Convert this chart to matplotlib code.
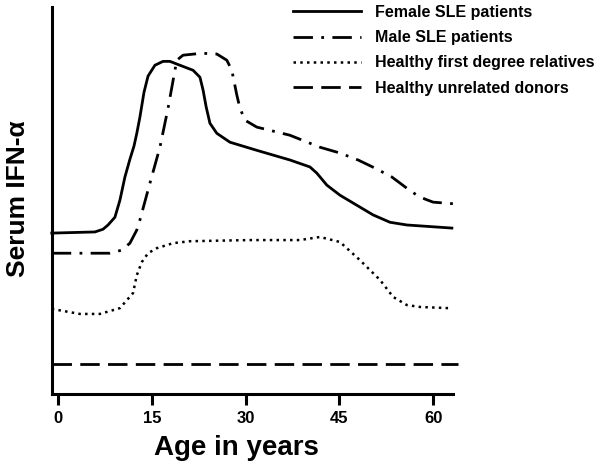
import matplotlib
matplotlib.use("Agg")
import matplotlib.pyplot as plt

plt.rcParams["font.family"] = ["Liberation Sans", "DejaVu Sans"]
plt.rcParams["font.weight"] = "bold"

# Curves (age in years, serum level in arbitrary units 0-100)
female_age = [-1, 5.9, 7.2, 8, 9.1, 9.9, 10.7, 11.5, 12.15, 12.6, 13.1, 13.75, 14.4, 15.5,
              16.8, 17.9, 19.5, 21.6, 22.7, 23.2, 23.7, 24.3, 25.4, 27.5, 31.8, 37.1, 40.3,
              41.4, 43, 45.1, 47.8, 50.4, 53.1, 55.8, 63]
female_level = [41.6, 41.9, 42.6, 43.7, 45.7, 50.1, 56.1, 60.7, 64.1, 67.4, 71.6, 78, 82.2,
                85, 86, 86, 85, 83.7, 81.9, 78.6, 74.2, 70, 67.4, 65.1, 63, 60.5, 58.7, 57.1,
                54, 51.4, 48.8, 46.3, 44.4, 43.7, 42.9]

male_age = [-1, 8.3, 10.2, 11.5, 12.6, 13.1, 14.7, 16.3, 17.6, 18.7, 19, 20, 23, 25.4,
            27, 27.8, 28.6, 29.1, 29.9, 31.8, 37.1, 41.9, 45.1, 48, 50.7, 53.4, 55.8, 57.4,
            58.7, 60, 61.6, 64]
male_level = [36.4, 36.4, 37.2, 39, 42.4, 45, 54.5, 63.8, 73.9, 83.7, 86.3, 87.6, 88.1, 87.9,
              86.3, 83.7, 77.3, 73.9, 70.8, 69, 66.9, 63.8, 62.3, 60.5, 58.4, 56.1, 53.2, 51.4,
              50.4, 49.6, 49.4, 49.1]

relatives_age = [-1, 3.5, 6.7, 9.9, 12, 12.6, 13.4, 14.4, 15.8, 18.4, 21.1, 30.7, 38.7,
                 41.9, 45.1, 48.3, 51.5, 53.6, 55.8, 57.9, 62.5]
relatives_level = [22, 20.7, 20.7, 22.2, 26.1, 30.7, 34.1, 36.4, 37.7, 39, 39.5, 39.8, 39.8,
                   40.6, 39.3, 34.6, 29.5, 25.1, 23, 22.5, 22.2]

donors_age = [-1, 64]
donors_level = [7.75, 7.75]

labels = ["Female SLE patients", "Male SLE patients",
          "Healthy first degree relatives", "Healthy unrelated donors"]


def main():
    fig = plt.figure(figsize=(6, 4.66), dpi=100)
    ax = fig.add_axes([0.0867, 0.1545, 0.668, 0.830])

    lw = 2
    h1, = ax.plot(female_age, female_level, "-", c="black", lw=lw, clip_on=False)
    h2, = ax.plot(male_age, male_level, c="black", lw=lw, clip_on=False,
                  dashes=(7, 3, 1, 3))
    h3, = ax.plot(relatives_age, relatives_level, c="black", lw=1.8, clip_on=False,
                  dashes=(1, 1.7))
    h4, = ax.plot(donors_age, donors_level, c="black", lw=lw, clip_on=False,
                  dashes=(7, 3))

    ax.set_xlim(-0.96, 63.15)
    ax.set_ylim(0, 100)
    ax.set_xticks([0, 15, 30, 45, 60])
    ax.set_yticks([])

    for side in ["top", "right"]:
        ax.spines[side].set_visible(False)
    for side in ["left", "bottom"]:
        ax.spines[side].set_linewidth(2.2)
    ax.tick_params(axis="x", direction="out", length=8, width=2.2, pad=4,
                   labelsize=12)
    for t in ax.get_xticklabels():
        t.set_fontweight("bold")

    ax.set_xlabel("Age in years", fontsize=20, fontweight="bold")
    ax.xaxis.set_label_coords(0.46, -0.105)
    ax.set_ylabel("Serum IFN-α", fontsize=19, fontweight="bold")
    ax.yaxis.set_label_coords(-0.055, 0.506)

    fig.legend([h1, h2, h3, h4], labels, loc="upper left",
               bbox_to_anchor=(0.473, 1.010), frameon=False,
               handlelength=4.25, handletextpad=0.88, labelspacing=0.64,
               prop={"size": 11.5, "weight": "bold"}, borderaxespad=0.2)

    fig.savefig("out.png", dpi=100)


if __name__ == "__main__":
    main()
